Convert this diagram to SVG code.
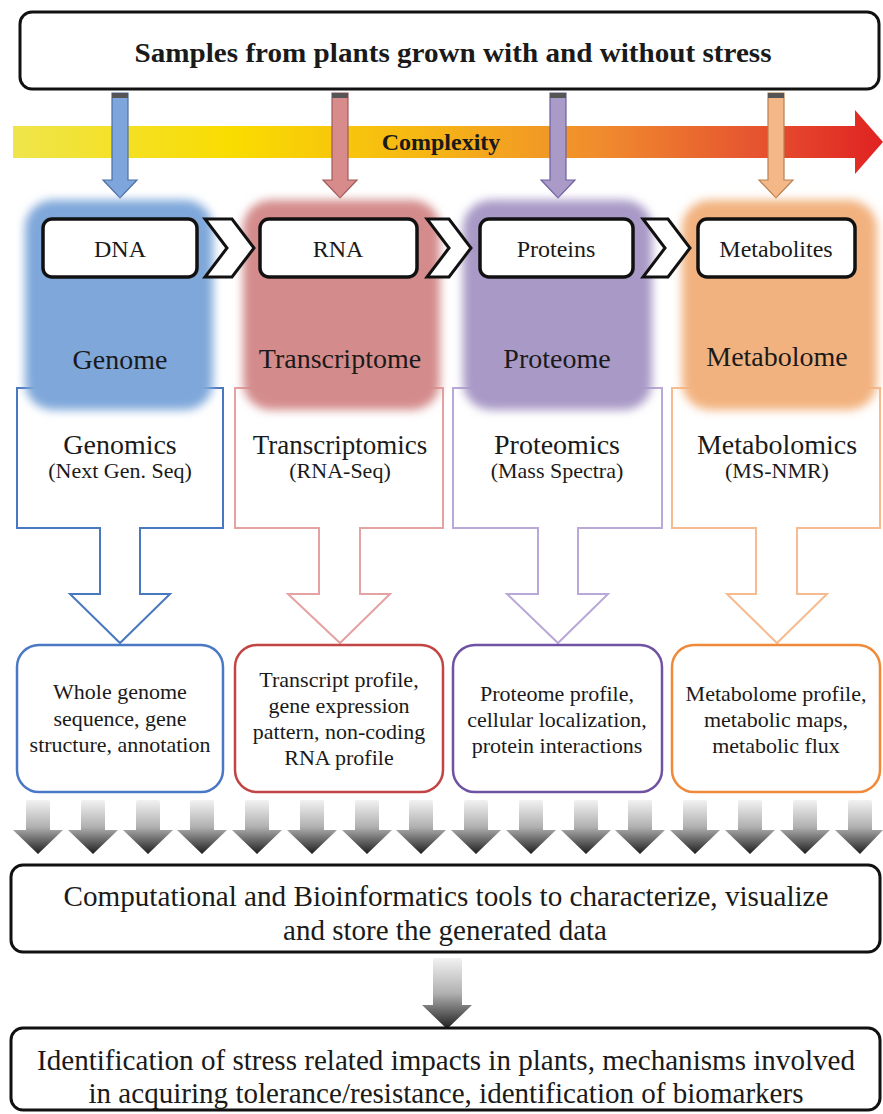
<svg xmlns="http://www.w3.org/2000/svg" width="883" height="1114" viewBox="0 0 883 1114">
<defs>
<linearGradient id="cg" x1="0" y1="0" x2="1" y2="0">
<stop offset="0" stop-color="#efe54c"/>
<stop offset="0.25" stop-color="#f9dc00"/>
<stop offset="0.48" stop-color="#f6b515"/>
<stop offset="0.68" stop-color="#f08a2e"/>
<stop offset="0.85" stop-color="#e65530"/>
<stop offset="1" stop-color="#e02222"/>
</linearGradient>
<linearGradient id="gg" x1="0" y1="0" x2="0" y2="1">
<stop offset="0" stop-color="#f2f2f2"/>
<stop offset="0.5" stop-color="#b0b0b0"/>
<stop offset="1" stop-color="#1e1e1e"/>
</linearGradient>
<filter id="bl" x="-0.2" y="-0.2" width="1.4" height="1.4"><feGaussianBlur stdDeviation="5"/></filter>
</defs>

<g id="top">
<rect x="20" y="12" width="859" height="77" rx="12" fill="#fff" stroke="#111" stroke-width="3"/>
<text font-family="Liberation Serif" font-size="28" font-weight="bold" text-anchor="middle" fill="#1a1a1a" x="453" y="62" textLength="637" lengthAdjust="spacingAndGlyphs">Samples from plants grown with and without stress</text>
</g>

<g id="complexity">
<polygon points="13,126 855,126 855,110 883,142 855,174 855,158 13,158" fill="url(#cg)"/>
<text font-family="Liberation Serif" font-size="24" font-weight="bold" text-anchor="middle" fill="#1a1a1a" x="441" y="150">Complexity</text>
</g>

<g id="connectors">
<g stroke-width="1.2">
<path d="M112,93 H128 V180 H137 L120,198 L103,180 H112 Z" fill="#7ea6dc" stroke="#4d6f9f"/>
<rect x="112" y="93" width="16" height="5" fill="#555"/>
<path d="M332,93 H348 V180 H357 L340,198 L323,180 H332 Z" fill="#d88b8b" stroke="#a05a5a"/>
<rect x="332" y="93" width="16" height="5" fill="#555"/>
<path d="M550,93 H566 V180 H575 L558,198 L541,180 H550 Z" fill="#a99ac8" stroke="#6f60a0"/>
<rect x="550" y="93" width="16" height="5" fill="#555"/>
<path d="M768,93 H784 V180 H793 L776,198 L759,180 H768 Z" fill="#f4b888" stroke="#b8804f"/>
<rect x="768" y="93" width="16" height="5" fill="#555"/>
</g>
<g fill="#fff" stroke-width="2">
<path stroke="#4a78c0" d="M17,388 H223 V528 H140 V594 H170 L120,643 L70,594 H100 V528 H17 Z"/>
<path stroke="#e4a2a2" d="M235,388 H443 V528 H360 V594 H390 L340,643 L288,594 H319 V528 H235 Z"/>
<path stroke="#b9a8d8" d="M453,388 H662 V528 H578 V594 H608 L558,643 L507,594 H538 V528 H453 Z"/>
<path stroke="#f6bb90" d="M672,388 H880 V528 H797 V594 H827 L777,643 L727,594 H756 V528 H672 Z"/>
</g>
<g id="grey-arrows" fill="url(#gg)">
<path d="M26,802 Q26,800 28,800 H48 Q50,800 50,802 V830 H63 L38,854 L13,830 H26 Z"/>
<path d="M81,802 Q81,800 83,800 H103 Q105,800 105,802 V830 H118 L93,854 L68,830 H81 Z"/>
<path d="M136,802 Q136,800 138,800 H158 Q160,800 160,802 V830 H173 L148,854 L123,830 H136 Z"/>
<path d="M190,802 Q190,800 192,800 H212 Q214,800 214,802 V830 H227 L202,854 L177,830 H190 Z"/>
<path d="M245,802 Q245,800 247,800 H267 Q269,800 269,802 V830 H282 L257,854 L232,830 H245 Z"/>
<path d="M300,802 Q300,800 302,800 H322 Q324,800 324,802 V830 H337 L312,854 L287,830 H300 Z"/>
<path d="M355,802 Q355,800 357,800 H377 Q379,800 379,802 V830 H392 L367,854 L342,830 H355 Z"/>
<path d="M409,802 Q409,800 411,800 H431 Q433,800 433,802 V830 H446 L421,854 L396,830 H409 Z"/>
<path d="M464,802 Q464,800 466,800 H486 Q488,800 488,802 V830 H501 L476,854 L451,830 H464 Z"/>
<path d="M519,802 Q519,800 521,800 H541 Q543,800 543,802 V830 H556 L531,854 L506,830 H519 Z"/>
<path d="M574,802 Q574,800 576,800 H596 Q598,800 598,802 V830 H611 L586,854 L561,830 H574 Z"/>
<path d="M628,802 Q628,800 630,800 H650 Q652,800 652,802 V830 H665 L640,854 L615,830 H628 Z"/>
<path d="M683,802 Q683,800 685,800 H705 Q707,800 707,802 V830 H720 L695,854 L670,830 H683 Z"/>
<path d="M738,802 Q738,800 740,800 H760 Q762,800 762,802 V830 H775 L750,854 L725,830 H738 Z"/>
<path d="M793,802 Q793,800 795,800 H815 Q817,800 817,802 V830 H830 L805,854 L780,830 H793 Z"/>
<path d="M848,802 Q848,800 850,800 H870 Q872,800 872,802 V830 H883 L860,854 L835,830 H848 Z"/>
<path d="M433,960 Q433,958 435,958 H460 Q462,958 462,960 V1005 H472 L447,1029 L422,1005 H433 Z"/>
</g>
</g>

<g id="genome">
<rect filter="url(#bl)" x="25" y="200" width="188" height="210" rx="28" fill="#7fa7da"/>
<rect x="43" y="219" width="154" height="58" rx="9" fill="#fff" stroke="#111" stroke-width="3.5"/>
<text font-family="Liberation Serif" font-size="24" text-anchor="middle" fill="#1a1a1a" x="120" y="257">DNA</text>
<text font-family="Liberation Serif" font-size="28" text-anchor="middle" fill="#1a1a1a" x="120" y="369">Genome</text>
<text font-family="Liberation Serif" font-size="28" text-anchor="middle" fill="#1a1a1a" x="120" y="454">Genomics</text>
<text font-family="Liberation Serif" font-size="22" text-anchor="middle" fill="#1a1a1a" x="120" y="478">(Next Gen. Seq)</text>
</g>
<g id="transcriptome">
<rect filter="url(#bl)" x="243" y="200" width="197" height="210" rx="28" fill="#d48b8b"/>
<rect x="260" y="219" width="157" height="58" rx="9" fill="#fff" stroke="#111" stroke-width="3.5"/>
<text font-family="Liberation Serif" font-size="24" text-anchor="middle" fill="#1a1a1a" x="338" y="257">RNA</text>
<text font-family="Liberation Serif" font-size="28" text-anchor="middle" fill="#1a1a1a" x="340" y="368">Transcriptome</text>
<text font-family="Liberation Serif" font-size="27" text-anchor="middle" fill="#1a1a1a" x="340" y="454">Transcriptomics</text>
<text font-family="Liberation Serif" font-size="22" text-anchor="middle" fill="#1a1a1a" x="340" y="478">(RNA-Seq)</text>
</g>
<g id="proteome">
<rect filter="url(#bl)" x="463" y="200" width="189" height="210" rx="28" fill="#a899c6"/>
<rect x="480" y="219" width="153" height="58" rx="9" fill="#fff" stroke="#111" stroke-width="3.5"/>
<text font-family="Liberation Serif" font-size="24" text-anchor="middle" fill="#1a1a1a" x="556" y="257">Proteins</text>
<text font-family="Liberation Serif" font-size="28" text-anchor="middle" fill="#1a1a1a" x="557" y="368">Proteome</text>
<text font-family="Liberation Serif" font-size="28" text-anchor="middle" fill="#1a1a1a" x="557" y="454">Proteomics</text>
<text font-family="Liberation Serif" font-size="22" text-anchor="middle" fill="#1a1a1a" x="557" y="478">(Mass Spectra)</text>
</g>
<g id="metabolome">
<rect filter="url(#bl)" x="682" y="200" width="195" height="210" rx="28" fill="#f2b27f"/>
<rect x="698" y="219" width="157" height="58" rx="9" fill="#fff" stroke="#111" stroke-width="3.5"/>
<text font-family="Liberation Serif" font-size="24" text-anchor="middle" fill="#1a1a1a" x="776" y="257">Metabolites</text>
<text font-family="Liberation Serif" font-size="28" text-anchor="middle" fill="#1a1a1a" x="777" y="366">Metabolome</text>
<text font-family="Liberation Serif" font-size="28" text-anchor="middle" fill="#1a1a1a" x="777" y="454">Metabolomics</text>
<text font-family="Liberation Serif" font-size="22" text-anchor="middle" fill="#1a1a1a" x="777" y="478">(MS-NMR)</text>
</g>
<g id="chevrons" fill="#fff" stroke="#111" stroke-width="3">
<polygon points="205,219 232,219 254,248 232,277 205,277 227,248"/>
<polygon points="427,219 449,219 471,248 449,277 427,277 449,248"/>
<polygon points="643,219 668,219 690,248 668,277 643,277 665,248"/>
</g>

<g id="res-genome">
<rect x="17" y="645" width="206" height="147" rx="22" fill="#fff" stroke-width="2.5" stroke="#4a78c4"/>
<text font-family="Liberation Serif" font-size="22" text-anchor="middle" fill="#1a1a1a" x="120" y="699">Whole genome</text>
<text font-family="Liberation Serif" font-size="22" text-anchor="middle" fill="#1a1a1a" x="120" y="726">sequence, gene</text>
<text font-family="Liberation Serif" font-size="22" text-anchor="middle" fill="#1a1a1a" x="120" y="752">structure, annotation</text>
</g>
<g id="res-transcriptome">
<rect x="235" y="645" width="208" height="147" rx="22" fill="#fff" stroke-width="2.5" stroke="#c24444"/>
<text font-family="Liberation Serif" font-size="22" text-anchor="middle" fill="#1a1a1a" x="339" y="687">Transcript profile,</text>
<text font-family="Liberation Serif" font-size="22" text-anchor="middle" fill="#1a1a1a" x="339" y="713">gene expression</text>
<text font-family="Liberation Serif" font-size="22" text-anchor="middle" fill="#1a1a1a" x="339" y="739">pattern, non-coding</text>
<text font-family="Liberation Serif" font-size="22" text-anchor="middle" fill="#1a1a1a" x="339" y="765">RNA profile</text>
</g>
<g id="res-proteome">
<rect x="453" y="645" width="209" height="147" rx="22" fill="#fff" stroke-width="2.5" stroke="#7052a2"/>
<text font-family="Liberation Serif" font-size="22" text-anchor="middle" fill="#1a1a1a" x="557" y="701">Proteome profile,</text>
<text font-family="Liberation Serif" font-size="22" text-anchor="middle" fill="#1a1a1a" x="557" y="727">cellular  localization,</text>
<text font-family="Liberation Serif" font-size="22" text-anchor="middle" fill="#1a1a1a" x="557" y="753">protein interactions</text>
</g>
<g id="res-metabolome">
<rect x="672" y="645" width="208" height="147" rx="22" fill="#fff" stroke-width="2.5" stroke="#f08a3a"/>
<text font-family="Liberation Serif" font-size="22" text-anchor="middle" fill="#1a1a1a" x="776" y="701">Metabolome profile,</text>
<text font-family="Liberation Serif" font-size="22" text-anchor="middle" fill="#1a1a1a" x="776" y="727">metabolic maps,</text>
<text font-family="Liberation Serif" font-size="22" text-anchor="middle" fill="#1a1a1a" x="776" y="753">metabolic flux</text>
</g>

<g id="computational">
<rect x="11" y="865" width="869" height="87" rx="12" fill="#fff" stroke="#111" stroke-width="3"/>
<text font-family="Liberation Serif" font-size="30" text-anchor="middle" fill="#1a1a1a" x="446" y="906" textLength="765" lengthAdjust="spacingAndGlyphs">Computational and Bioinformatics tools to characterize, visualize</text>
<text font-family="Liberation Serif" font-size="30" text-anchor="middle" fill="#1a1a1a" x="445" y="940" textLength="324" lengthAdjust="spacingAndGlyphs">and store the generated data</text>
</g>
<g id="identification">
<rect x="11" y="1028" width="869" height="82" rx="12" fill="#fff" stroke="#111" stroke-width="3"/>
<text font-family="Liberation Serif" font-size="30" text-anchor="middle" fill="#1a1a1a" x="446" y="1070" textLength="818" lengthAdjust="spacingAndGlyphs">Identification of stress related impacts in plants, mechanisms involved</text>
<text font-family="Liberation Serif" font-size="30" text-anchor="middle" fill="#1a1a1a" x="446" y="1103" textLength="715" lengthAdjust="spacingAndGlyphs">in acquiring tolerance/resistance, identification of biomarkers</text>
</g>
</svg>
